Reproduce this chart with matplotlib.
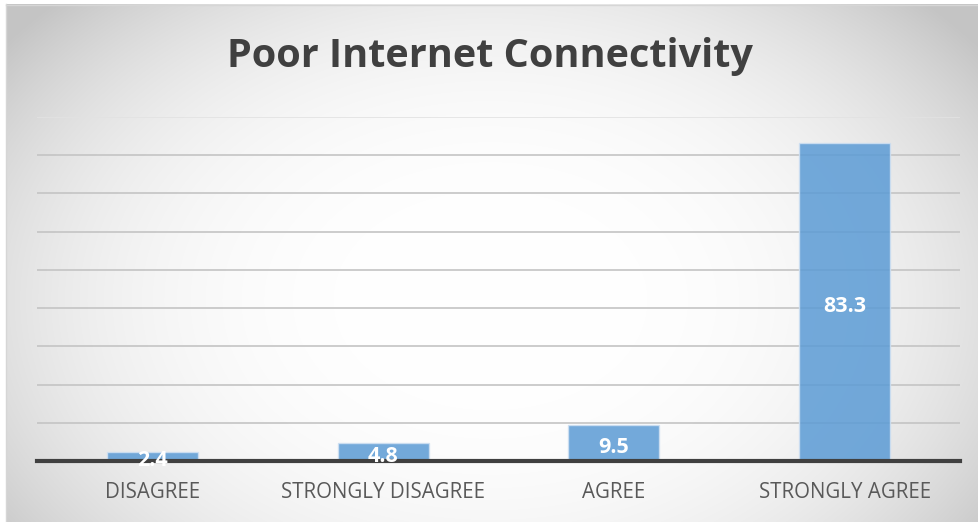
import numpy as np
import matplotlib
matplotlib.use("Agg")
import matplotlib.pyplot as plt
from matplotlib.patches import Rectangle

categories = ["DISAGREE", "STRONGLY DISAGREE", "AGREE", "STRONGLY AGREE"]
values = [2.4, 4.8, 9.5, 83.3]
title = "Poor Internet Connectivity"

W, H = 979, 522
fig = plt.figure(figsize=(W / 100, H / 100), dpi=100)

# radial gradient background
bg = fig.add_axes([0, 0, 1, 1], zorder=0)
yy, xx = np.mgrid[0:H, 0:W]
cx, cy = 490, 300
r = np.sqrt(((xx - cx) / 600.0) ** 2 + ((yy - cy) / 420.0) ** 2)
g = 1.0 - 0.22 * r ** 3
g = np.clip(g, 0.77, 1)
img = np.dstack([g, g, g])
bg.imshow(img, extent=[0, W, H, 0], aspect="auto", interpolation="bilinear")
bg.add_patch(Rectangle((0, 0), 6, H, facecolor="white", edgecolor="none"))
bg.add_patch(Rectangle((0, 0), W, 4, facecolor="white", edgecolor="none"))
bg.plot([6.5, 6.5], [4, H], color="#d6d6d6", lw=1)
bg.plot([6.5, W], [4.5, 4.5], color="#d6d6d6", lw=1)
bg.set_xlim(0, W)
bg.set_ylim(H, 0)
bg.axis("off")

left, right = 37 / W, 960 / W
bottom, top = (H - 461) / H, (H - 117) / H
ax = fig.add_axes([left, bottom, right - left, top - bottom], zorder=1)
ax.patch.set_alpha(0)

x = np.arange(len(categories))
ax.set_xlim(-0.5, len(categories) - 0.5)
ax.set_ylim(0, 90)
ax.set_yticks(np.arange(0, 91, 10))
ax.yaxis.grid(True, color="#c4c4c4", lw=1.2)
ax.set_axisbelow(True)
gl = ax.get_ygridlines()
gl[-1].set_color("#e2e2e2")

bars = ax.bar(x, values, width=0.395, color="#5b9bd5", alpha=0.85,
              edgecolor="#cfe0f2", linewidth=1, zorder=2)

for xi, v in zip(x, values):
    ax.text(xi, v / 2 - 1.2, f"{v}", ha="center", va="center", color="white",
            fontsize=15.5, fontweight="bold", family="Open Sans", zorder=5)

for s in ["top", "right", "left"]:
    ax.spines[s].set_visible(False)
ax.spines["bottom"].set_color("#404040")
ax.spines["bottom"].set_linewidth(3)
ax.spines["bottom"].set_zorder(4)
ax.tick_params(axis="y", left=False, labelleft=False)
ax.tick_params(axis="x", length=0, pad=15)
ax.set_xticks(x)
ax.set_xticklabels(categories, fontsize=14.8, color="#595959", family="Open Sans")

fig.text(0.5, (H - 56) / H, title, ha="center", va="center", fontsize=28.5,
         fontweight="bold", color="#404040", family="Open Sans", zorder=3)

fig.savefig("out.png", dpi=100)
